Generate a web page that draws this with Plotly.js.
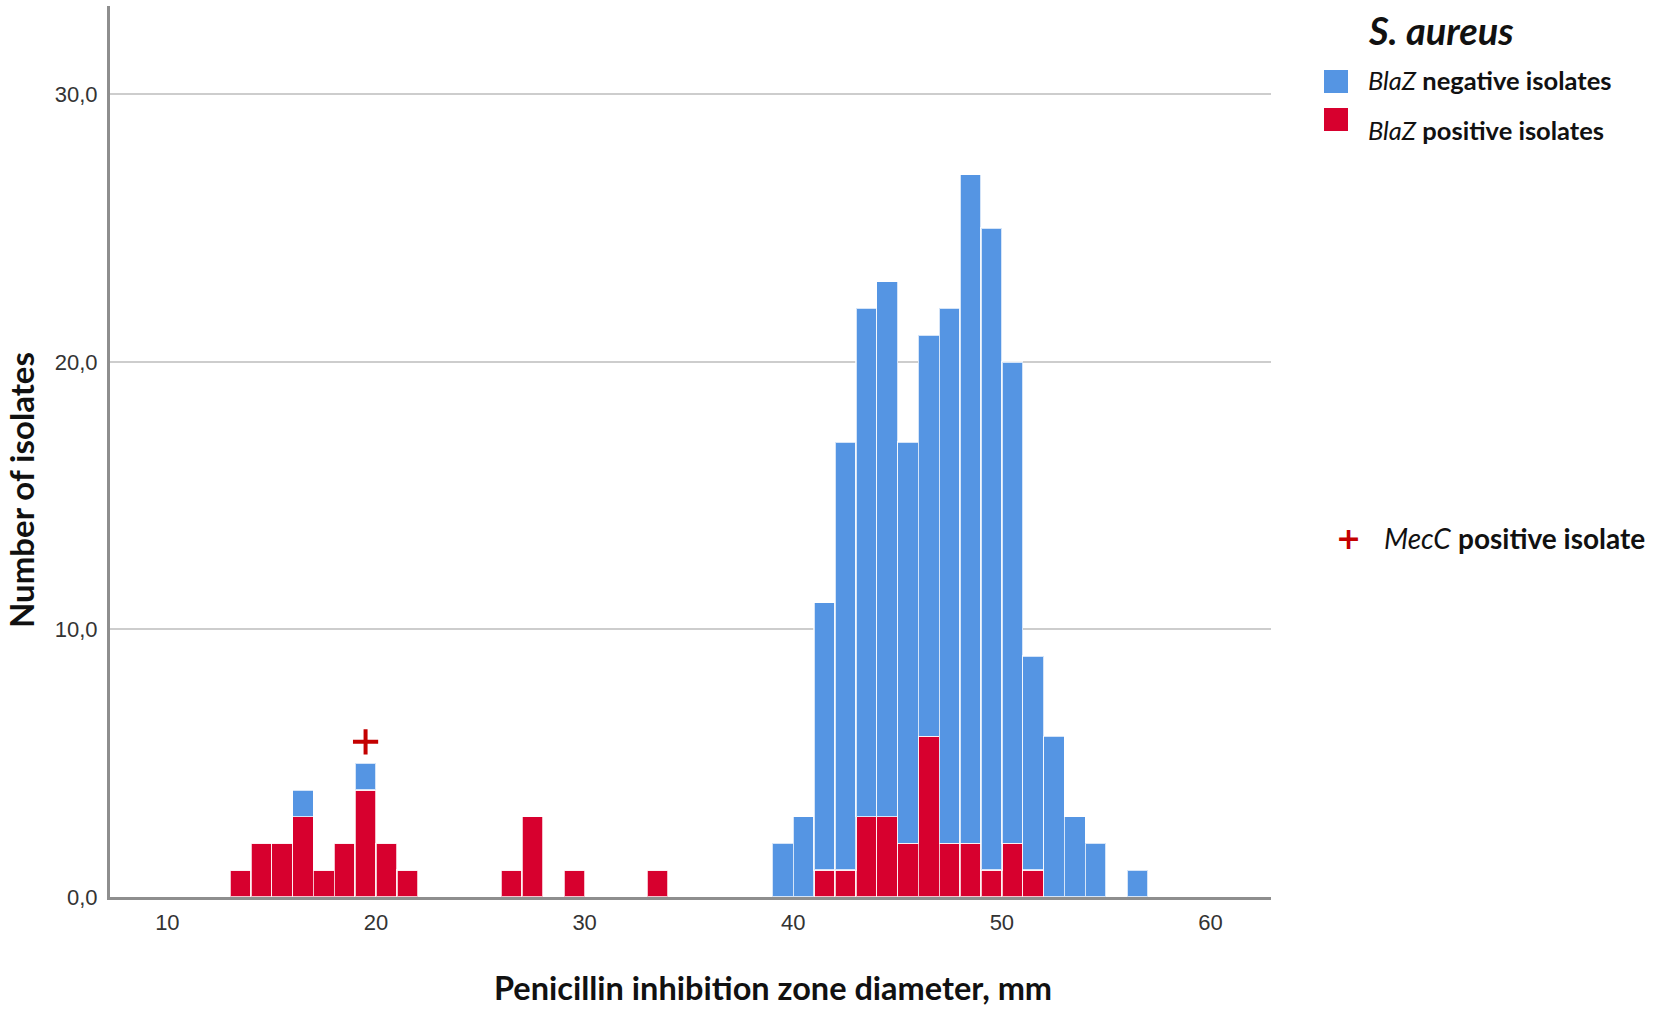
<!DOCTYPE html>
<html>
<head>
<meta charset="utf-8">
<script src="https://cdn.plot.ly/plotly-3.0.1.min.js"></script>
<style>
html,body{margin:0;padding:0;background:#fff;}
#chart{width:1654px;height:1009px;}
</style>
</head>
<body>
<div id="chart"></div>
<script>
// Histogram bins: lower edge of each 1 mm bin
var binStart = [13,14,15,16,17,18,19,20,21,26,27,29,33,39,40,41,42,43,44,45,46,47,48,49,50,51,52,53,54,56];
// BlaZ positive isolates per bin
var positiveCounts = [1,2,2,3,1,2,4,2,1,1,3,1,1,0,0,1,1,3,3,2,6,2,2,1,2,1,0,0,0,0];
// total isolates per bin
var totalCounts = [1,2,2,4,1,2,5,2,1,1,3,1,1,2,3,11,17,22,23,17,21,22,27,25,20,9,6,3,2,1];
// MecC positive isolate lies in this bin
var mecCBin = [19];
var yTickVals = [0,10,20,30];
var xTickVals = [10,20,30,40,50,60];

var binWidth = 1;
var binCenters = binStart.map(function(b){return b + binWidth/2;});
var negativeCounts = totalCounts.map(function(t,i){return t - positiveCounts[i];});
var mecX = mecCBin.map(function(b){return b + binWidth/2;});
var mecY = mecCBin.map(function(b){return totalCounts[binStart.indexOf(b)] + 0.8;});

var RED = '#d7002e', BLUE = '#5595e3', CROSS = '#c40000';

var traces = [
  {type:'bar', name:'BlaZ positive isolates', x:binCenters, y:positiveCounts, width:binWidth,
   marker:{color:RED, line:{color:'rgba(255,255,255,0.75)', width:1.5}}, showlegend:false, hoverinfo:'x+y'},
  {type:'bar', name:'BlaZ negative isolates', x:binCenters, y:negativeCounts, width:binWidth,
   marker:{color:BLUE, line:{color:'rgba(255,255,255,0.75)', width:1.5}}, showlegend:false, hoverinfo:'x+y'},
  {type:'scatter', mode:'markers', name:'MecC positive isolate', x:mecX, y:mecY,
   marker:{symbol:'cross-thin', size:18, color:CROSS, line:{color:CROSS, width:4}}, showlegend:false}
];

var FAM = 'Lato, "Open Sans", sans-serif';
var TICKFAM = '"Liberation Sans", Arial, sans-serif';
var L = 110, T = 6, PW = 1161, PH = 891;
function px(x){return (x - L)/PW;}
function py(y){return 1 - (y - T)/PH;}

var layout = {
  width:1654, height:1009,
  margin:{l:110, r:383, t:6, b:112},
  paper_bgcolor:'#fff', plot_bgcolor:'#fff',
  barmode:'stack', bargap:0,
  separators:', ',
  xaxis:{range:[7.25,62.9], tickvals:xTickVals, showgrid:false, zeroline:false,
         showline:true, linecolor:'#8e8e8e', linewidth:3, ticks:'', ticklabelstandoff:4,
         tickfont:{family:TICKFAM, size:22, color:'#333'}, automargin:false},
  yaxis:{range:[0,33.3], tickvals:yTickVals, tickformat:'.1f', showgrid:true, gridcolor:'#cdcdcd', gridwidth:2,
         zeroline:false, showline:true, linecolor:'#8e8e8e', linewidth:3, ticks:'', ticklabelstandoff:5,
         tickfont:{family:TICKFAM, size:22, color:'#333'}, automargin:false},
  shapes:[
    {type:'rect', xref:'paper', yref:'paper', x0:px(1324), x1:px(1348), y0:py(93), y1:py(70),
     fillcolor:BLUE, line:{width:0}},
    {type:'rect', xref:'paper', yref:'paper', x0:px(1324), x1:px(1348), y0:py(131), y1:py(108),
     fillcolor:RED, line:{width:0}}
  ],
  annotations:[
    {xref:'paper', yref:'paper', x:px(773), y:py(987), xanchor:'center', yanchor:'middle', showarrow:false,
     text:'<b>Penicillin inhibition zone diameter, mm</b>', font:{family:FAM, size:32.5, color:'#111'}},
    {xref:'paper', yref:'paper', x:px(21), y:py(490), xanchor:'center', yanchor:'middle', showarrow:false,
     textangle:-90, text:'<b>Number of isolates</b>', font:{family:FAM, size:33, color:'#111'}},
    {xref:'paper', yref:'paper', x:px(1366), y:py(30), xanchor:'left', yanchor:'middle', showarrow:false,
     text:'<b><i>S. aureus</i></b>', font:{family:FAM, size:38, color:'#111'}},
    {xref:'paper', yref:'paper', x:px(1366), y:py(80), xanchor:'left', yanchor:'middle', showarrow:false,
     text:'<i>BlaZ</i> <b>negative isolates</b>', font:{family:FAM, size:25.5, color:'#111'}},
    {xref:'paper', yref:'paper', x:px(1366), y:py(130), xanchor:'left', yanchor:'middle', showarrow:false,
     text:'<i>BlaZ</i> <b>positive isolates</b>', font:{family:FAM, size:25.5, color:'#111'}},
    {xref:'paper', yref:'paper', x:px(1348), y:py(538), xanchor:'center', yanchor:'middle', showarrow:false,
     text:'<b>+</b>', font:{family:'"DejaVu Sans", sans-serif', size:30, color:CROSS}},
    {xref:'paper', yref:'paper', x:px(1382), y:py(538), xanchor:'left', yanchor:'middle', showarrow:false,
     text:'<i>MecC</i> <b>positive isolate</b>', font:{family:FAM, size:28, color:'#111'}}
  ]
};

Plotly.newPlot('chart', traces, layout, {displayModeBar:false, staticPlot:true});
</script>
</body>
</html>
